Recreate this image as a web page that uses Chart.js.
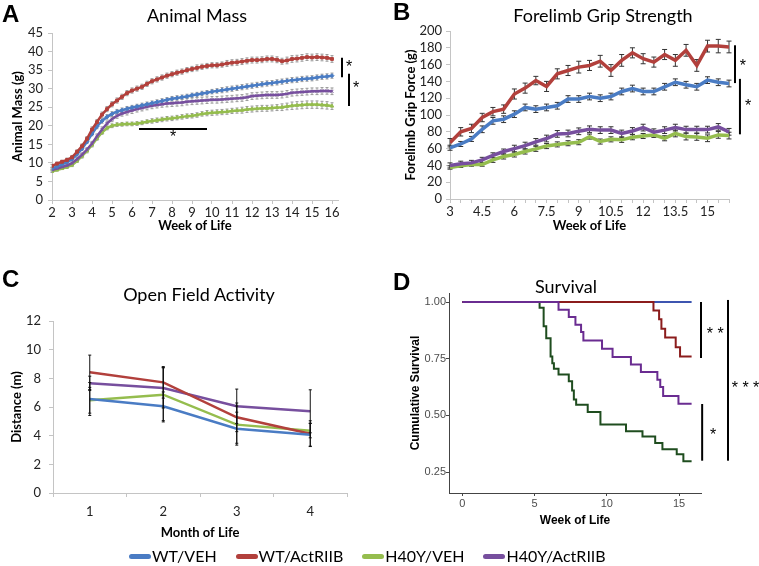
<!DOCTYPE html>
<html><head><meta charset="utf-8">
<script src="https://cdn.jsdelivr.net/npm/chart.js@4.4.1/dist/chart.umd.min.js"></script>
<style>
body{margin:0;background:#fff;width:759px;height:566px;overflow:hidden;position:relative;font-family:Lato,sans-serif;}
canvas{position:absolute;}
.letter{position:absolute;font:bold 24px 'Liberation Sans',Arial,sans-serif;line-height:24px;color:#000;}
.title{position:absolute;width:300px;text-align:center;font:18px Lato,sans-serif;line-height:20px;color:#000;white-space:nowrap;}
#legend{position:absolute;left:129px;top:546px;display:flex;align-items:center;font:16px Lato,sans-serif;line-height:20px;color:#000;white-space:nowrap;}
.item{display:flex;align-items:center;margin-right:19px}
.sw{width:22px;height:5px;border-radius:2.5px;margin-right:1px}
</style></head><body>
<canvas id="cA" width="380" height="240" style="left:0;top:0;width:380px;height:240px"></canvas>
<canvas id="cB" width="379" height="240" style="left:380px;top:0;width:379px;height:240px"></canvas>
<canvas id="cC" width="380" height="297" style="left:0;top:250px;width:380px;height:297px"></canvas>
<canvas id="cD" width="379" height="297" style="left:380px;top:250px;width:379px;height:297px"></canvas>
<div class="letter" style="left:2px;top:2px">A</div>
<div class="letter" style="left:393px;top:0px">B</div>
<div class="letter" style="left:2px;top:267px">C</div>
<div class="letter" style="left:393px;top:270px">D</div>
<div class="title" style="left:47px;top:4.5px">Animal Mass</div>
<div class="title" style="left:453px;top:4.5px">Forelimb Grip Strength</div>
<div class="title" style="left:49px;top:283.5px">Open Field Activity</div>
<div class="title" style="left:416px;top:276px">Survival</div>
<div id="legend"></div>
<script>
// ---------- shared ----------
const groups = ['WT/VEH', 'WT/ActRIIB', 'H40Y/VEH', 'H40Y/ActRIIB'];
const groupColors = ['#4a7cc4', '#b2403c', '#95bd4e', '#774f9e'];

// ---------- Panel A: Animal Mass ----------
const weeksA = [2,2.25,2.5,2.75,3,3.25,3.5,3.75,4,4.25,4.5,4.75,5,5.25,5.5,5.75,6,6.25,6.5,6.75,7,7.25,7.5,7.75,8,8.25,8.5,8.75,9,9.25,9.5,9.75,10,10.25,10.5,10.75,11,11.25,11.5,11.75,12,12.25,12.5,12.75,13,13.25,13.5,13.75,14,14.25,14.5,14.75,15,15.25,15.5,15.75,16];
const weekTicksA = [2,3,4,5,6,7,8,9,10,11,12,13,14,15,16];
const massWTVEH = [8.5,9,9.6,10.2, 11,12.3,13.8,15.7, 17.8,19.8,21.3,22.4, 23.2,23.8,24.2,24.6, 24.9,25.2,25.5,25.8, 26.1,26.4,26.7,27, 27.3,27.5,27.7,27.9, 28.2,28.4,28.7,28.9, 29.2,29.4,29.6,29.8, 30,30.2,30.4,30.6, 30.8,31,31.2,31.4, 31.5,31.7,31.9,32.1, 32.3,32.4,32.6,32.7, 32.8,33,33.2,33.3, 33.5];
const massWTAct = [9.2,9.8,10.3,10.8, 11.5,13,14.5,16.5, 19,21,23,24.5, 25.8,26.8,27.8,28.8, 29.5,30,30.5,31.3, 32,32.5,33,33.5, 33.9,34.3,34.6,35, 35.3,35.6,35.9,36.1, 36.3,36.3,36.5,36.8, 37,37.1,37.3,37.5, 37.7,37.7,37.8,38, 38,37.8,37.4,37.6, 38,38.1,38.3,38.5, 38.4,38.5,38.4,38.3, 38];
const massH40VEH = [7.7,8.1,8.5,8.9, 9.4,10.5,11.8,13.2, 14.8,16.6,18.2,19.4, 20,20.3,20.4,20.5, 20.5,20.6,20.8,21.1, 21.3,21.5,21.7,21.9, 22,22.2,22.4,22.6, 22.7,22.9,23.2,23.4, 23.5,23.6,23.7,23.8, 24,24.1,24.2,24.4, 24.5,24.6,24.7,24.7, 24.8,24.9,25,25.2, 25.4,25.5,25.6,25.7, 25.7,25.7,25.6,25.5, 25.3];
const massH40Act = [8.1,8.5,8.9,9.3, 9.9,11,12.2,13.6, 15.2,17.2,19,20.6, 21.8,22.7,23.3,23.7, 24.1,24.5,24.8,25.1, 25.4,25.6,25.8,26, 26.1,26.2,26.3,26.5, 26.6,26.7,26.8,26.9, 27,27,27.1,27.2, 27.3,27.4,27.5,27.7, 28,28.1,28.2,28.3, 28.3,28.3,28.4,28.6, 28.9,29,29.1,29.2, 29.3,29.3,29.4,29.4, 29.3];
const errWTVEH_A = [0.3,0.3,0.3,0.4, 0.4,0.4,0.5,0.5, 0.5,0.6,0.6,0.6, 0.6,0.6,0.6,0.6, 0.6,0.6,0.6,0.6, 0.6,0.6,0.6,0.6, 0.6,0.6,0.6,0.6, 0.6,0.6,0.6,0.6, 0.6,0.6,0.7,0.7, 0.7,0.7,0.7,0.7, 0.7,0.7,0.7,0.7, 0.7,0.7,0.7,0.7, 0.7,0.7,0.7,0.7, 0.7,0.7,0.7,0.7, 0.7];
const errWTAct_A = [0.4,0.4,0.4,0.5, 0.5,0.5,0.6,0.6, 0.7,0.7,0.7,0.7, 0.7,0.7,0.7,0.7, 0.7,0.7,0.7,0.7, 0.7,0.7,0.7,0.7, 0.7,0.7,0.7,0.7, 0.7,0.8,0.7,0.7, 0.7,0.7,0.7,0.8, 0.8,0.8,0.8,0.8, 0.8,0.8,0.8,0.8, 0.8,0.8,0.8,0.9, 0.9,0.9,0.9,0.9, 0.9,0.9,0.9,0.9, 0.9];
const errH40VEH_A = [0.3,0.3,0.3,0.4, 0.4,0.4,0.5,0.5, 0.5,0.5,0.5,0.5, 0.5,0.5,0.5,0.5, 0.5,0.5,0.5,0.5, 0.6,0.6,0.6,0.6, 0.6,0.6,0.6,0.6, 0.6,0.6,0.6,0.7, 0.7,0.7,0.7,0.7, 0.7,0.7,0.8,0.8, 0.8,0.8,0.8,0.8, 0.8,0.8,0.9,0.9, 1.0,1.0,1.0,1.0, 1.0,1.0,1.0,1.0, 0.9];
const errH40Act_A = [0.3,0.3,0.3,0.4, 0.4,0.4,0.5,0.5, 0.6,0.6,0.7,0.7, 0.7,0.7,0.7,0.8, 0.8,0.8,0.8,0.8, 0.8,0.8,0.8,0.9, 0.9,0.9,0.9,0.9, 0.9,0.9,0.9,0.9, 0.9,0.9,0.9,0.9, 0.9,0.9,0.9,0.9, 0.9,0.9,0.9,0.9, 0.9,0.9,0.9,0.9, 0.9,0.9,0.9,0.9, 0.9,0.9,0.9,0.9, 0.9];
// significance annotations (data units): lines [x1,y1,x2,y2], labels [x,y,text]
const sigLinesA = [[16.5,38.3,16.5,33.1],[16.85,34,16.85,25.3],[6.35,19.1,9.75,19.1]];
const sigLabelsA = [[16.85,35.6,'*'],[17.2,30,'*'],[8.05,16.8,'*']];

// ---------- Panel B: Forelimb Grip Strength ----------
const weeksB = [3,3.5,4,4.5,5,5.5,6,6.5,7,7.5,8,8.5,9,9.5,10,10.5,11,11.5,12,12.5,13,13.5,14,14.5,15,15.5,16];
const tickLabelsB = [3,4.5,6,7.5,9,10.5,12,13.5,15];
const gripWTVEH = [61,65.5,71.5,83,93,95,101,109,107,109,111,119,119,122,120,122,128,131.5,128,128,133.6,139,136,133.6,141.5,139,137.5];
const gripWTAct = [67,80,84,97,104,107,125,132,141,134,149,153,157,159,164,153,165,174,167,163,172,165,177,159,182,182,181];
const gripH40VEH = [37.5,39.5,41,41,46.6,50.6,53,56.5,59.7,63,65,66.4,67.6,74.3,68.4,71,70.4,73.5,75,76.3,72.3,78,74.3,73.9,72.3,76.3,75.5];
const gripH40Act = [40,42,43,46.6,52,56.5,60,63.6,68,72,77.5,78,80.6,83,82,82,78,81,85,79.5,82,85,82.6,82.6,82.6,85.8,80];
const errWTVEH_B = [3,3,3,4,4,4,4,4,4,4,4,4,4,4,4,4,4,4,4,4,4,4,4,4,4,4,4];
const errWTAct_B = [5,5,5,5,5,5,6,6,5,6,6,6,7,6,7,7,7,6,6,6,6,7,7,7,7,8,7];
const errH40VEH_B = [2,2,2,2,3,3,3,3,3,3,3,3,3,3,3,3,3,3,3,3,3,4,4,4,4,4,4];
const errH40Act_B = [3,3,3,3,3,3,4,4,4,4,4,4,4,4,4,4,4,4,4,4,4,4,4,4,4,4,4];
const sigLinesB = [[16.28,183,16.28,138],[16.51,143,16.51,77]];
const sigLabelsB = [[16.65,158,'*'],[16.89,110,'*']];

// ---------- Panel C: Open Field Activity ----------
const monthsC = ['1','2','3','4'];
const distWTVEH = [6.56,6.05,4.49,4.07];
const distWTAct = [8.42,7.72,5.28,4.14];
const distH40VEH = [6.47,6.86,4.77,4.35];
const distH40Act = [7.65,7.33,6.05,5.7];
const errWTVEH_C = [1.15,1.0,1.15,0.8];
const errWTAct_C = [1.2,1.1,1.0,0.9];
const errH40VEH_C = [0.9,1.9,1.3,0.5];
const errH40Act_C = [0.5,1.4,1.2,1.5];

// ---------- Panel D: Survival (Kaplan-Meier steps) ----------
const survTicksX = [0,5,10,15];
const survTicksY = [0.25,0.50,0.75,1.00];
const kmWTVEH_t = [0,15.87];
const kmWTVEH_s = [1,1];
const kmWTAct_t = [0,13.23,13.62,13.78,14.04,14.77,15.07,15.87];
const kmWTAct_s = [1,0.963,0.924,0.882,0.843,0.80,0.76,0.76];
const kmH40VEH_t = [0,5.35,5.63,5.81,6.11,6.23,6.34,6.66,7.37,7.60,7.72,7.88,8.68,9.56,11.33,12.47,13.35,13.85,14.84,15.3,15.87];
const kmH40VEH_s = [1,0.975,0.893,0.84,0.76,0.73,0.706,0.68,0.65,0.61,0.57,0.547,0.515,0.46,0.43,0.407,0.378,0.35,0.328,0.298,0.298];
const kmH40Act_t = [0,6.66,7.37,7.83,8.22,8.38,9.67,10.4,11.67,12.36,13.5,13.7,13.9,14.96,15.87];
const kmH40Act_s = [1,0.966,0.934,0.90,0.868,0.83,0.794,0.757,0.724,0.691,0.657,0.625,0.585,0.551,0.551];
const kmColors = ['#3d55b0','#8b1c1c','#1f4d1f','#6a2c91'];
const sigLinesD = [[16.52,1.0,16.52,0.753],[16.6,0.55,16.6,0.30],[18.39,1.009,18.39,0.30]];
const sigLabelsD = [[17.5,0.855,'* *'],[17.35,0.41,'*'],[19.6,0.62,'* * *']];

// ---------- plugins ----------
function errorBarPlugin(color, cap, width, over) {
  function draw(chart) {
    const ctx = chart.ctx;
    ctx.save();
    ctx.strokeStyle = color; ctx.lineWidth = width;
    chart.data.datasets.forEach((ds, i) => {
      if (!ds.errors) return;
      const meta = chart.getDatasetMeta(i);
      const ys = chart.scales[meta.yAxisID];
      meta.data.forEach((pt, j) => {
        const raw = ds.data[j];
        const v = (typeof raw === 'object') ? raw.y : raw;
        const e = ds.errors[j];
        const t = ys.getPixelForValue(v + e), b = ys.getPixelForValue(v - e);
        ctx.beginPath();
        ctx.moveTo(pt.x, t); ctx.lineTo(pt.x, b);
        ctx.moveTo(pt.x - cap, t); ctx.lineTo(pt.x + cap, t);
        ctx.moveTo(pt.x - cap, b); ctx.lineTo(pt.x + cap, b);
        ctx.stroke();
      });
    });
    ctx.restore();
  }
  return {
    id: 'errBars',
    beforeDatasetsDraw(chart) { if (!over) draw(chart); },
    afterDatasetsDraw(chart) { if (over) draw(chart); }
  };
}
function sigPlugin(lines, labels, font, lw) {
  return {
    id: 'sigMarks',
    afterDraw(chart) {
      const ctx = chart.ctx, xs = chart.scales.x, ys = chart.scales.y;
      ctx.save();
      ctx.strokeStyle = '#000'; ctx.fillStyle = '#000'; ctx.lineWidth = lw;
      lines.forEach(l => {
        ctx.beginPath();
        ctx.moveTo(xs.getPixelForValue(l[0]), ys.getPixelForValue(l[1]));
        ctx.lineTo(xs.getPixelForValue(l[2]), ys.getPixelForValue(l[3]));
        ctx.stroke();
      });
      ctx.font = font; ctx.textAlign = 'center'; ctx.textBaseline = 'middle';
      labels.forEach(t => ctx.fillText(t[2], xs.getPixelForValue(t[0]), ys.getPixelForValue(t[1])));
      ctx.restore();
    }
  };
}

const axisGray = '#c4c4c4';
const tickFont = {family: 'Lato', size: 13};
const titleFont = {family: 'Lato', size: 13, weight: 'bold'};
const basePlugins = {legend: {display: false}, tooltip: {enabled: false}};

function xy(xs, ys) { return xs.map((x, i) => ({x: x, y: ys[i]})); }

// ---------- Chart A ----------
const seriesA = [
  {label: groups[1], data: xy(weeksA, massWTAct), errors: errWTAct_A, color: groupColors[1], marker: 'rect', order: 0},
  {label: groups[0], data: xy(weeksA, massWTVEH), errors: errWTVEH_A, color: groupColors[0], marker: 'rectRot', order: 1},
  {label: groups[3], data: xy(weeksA, massH40Act), errors: errH40Act_A, color: groupColors[3], marker: 'crossRot', order: 2},
  {label: groups[2], data: xy(weeksA, massH40VEH), errors: errH40VEH_A, color: groupColors[2], marker: 'triangle', order: 3}
];
new Chart(document.getElementById('cA'), {
  type: 'line',
  data: {datasets: seriesA.map(s => ({
    label: s.label, data: s.data, errors: s.errors, order: s.order,
    borderColor: s.color, backgroundColor: s.color, pointBackgroundColor: s.color, pointBorderColor: s.color,
    pointStyle: s.marker, pointRadius: 2, pointBorderWidth: 1, borderWidth: 2.5, tension: 0
  }))},
  options: {
    responsive: false, animation: false, devicePixelRatio: 1,
    layout: {padding: {top: 33, right: 42, bottom: 2, left: 6}, autoPadding: false},
    plugins: basePlugins,
    scales: {
      x: {type: 'linear', min: 2, max: 16.3,
        afterBuildTicks: s => { s.ticks = weekTicksA.map(v => ({value: v})); },
        ticks: {font: tickFont, color: '#222', padding: 1, maxRotation: 0, autoSkip: false},
        grid: {drawOnChartArea: false, tickLength: 4, color: axisGray}, border: {color: axisGray},
        title: {display: true, text: 'Week of Life', font: titleFont, color: '#000', padding: {top: 4, bottom: 4}},
        afterFit: s => { s.height = 38; }},
      y: {min: 0, max: 45,
        ticks: {stepSize: 5, font: tickFont, color: '#222', padding: 5, autoSkip: false},
        grid: {drawOnChartArea: false, tickLength: 4, color: axisGray}, border: {color: axisGray},
        title: {display: true, text: 'Animal Mass (g)', font: titleFont, color: '#000', padding: {top: 4, bottom: 4}},
        afterFit: s => { s.width = 46; }}
    }
  },
  plugins: [errorBarPlugin('#9b9b9b', 1.5, 1, false), sigPlugin(sigLinesA, sigLabelsA, '16px "Liberation Sans"', 2)]
});

// ---------- Chart B ----------
const seriesB = [
  {label: groups[1], vals: gripWTAct, errors: errWTAct_B, color: groupColors[1]},
  {label: groups[0], vals: gripWTVEH, errors: errWTVEH_B, color: groupColors[0]},
  {label: groups[3], vals: gripH40Act, errors: errH40Act_B, color: groupColors[3]},
  {label: groups[2], vals: gripH40VEH, errors: errH40VEH_B, color: groupColors[2]}
];
new Chart(document.getElementById('cB'), {
  type: 'line',
  data: {datasets: seriesB.map(s => ({
    label: s.label, data: xy(weeksB, s.vals), errors: s.errors,
    borderColor: s.color, backgroundColor: s.color, pointRadius: 0, borderWidth: 3.5, tension: 0
  }))},
  options: {
    responsive: false, animation: false, devicePixelRatio: 1,
    layout: {padding: {top: 31, right: 30, bottom: 2, left: 19}, autoPadding: false},
    plugins: basePlugins,
    scales: {
      x: {type: 'linear', min: 3, max: 16,
        afterBuildTicks: s => { s.ticks = weeksB.map(v => ({value: v})); },
        ticks: {font: tickFont, color: '#222', padding: 1, maxRotation: 0, autoSkip: false,
          callback: v => tickLabelsB.includes(v) ? String(v) : ''},
        grid: {drawOnChartArea: false, tickLength: 4, color: axisGray}, border: {color: axisGray},
        title: {display: true, text: 'Week of Life', font: titleFont, color: '#000', padding: {top: 4, bottom: 4}},
        afterFit: s => { s.height = 39; }},
      y: {min: 0, max: 200,
        ticks: {stepSize: 20, font: tickFont, color: '#222', padding: 4, autoSkip: false},
        grid: {drawOnChartArea: false, tickLength: 4, color: axisGray}, border: {color: axisGray},
        title: {display: true, text: 'Forelimb Grip Force (g)', font: titleFont, color: '#000', padding: {top: 4, bottom: 4}},
        afterFit: s => { s.width = 51; }}
    }
  },
  plugins: [errorBarPlugin('#333', 2.5, 1, false), sigPlugin(sigLinesB, sigLabelsB, '16px "Liberation Sans"', 2)]
});

// ---------- Chart C ----------
const seriesC = [
  {label: groups[0], vals: distWTVEH, errors: errWTVEH_C, color: groupColors[0]},
  {label: groups[1], vals: distWTAct, errors: errWTAct_C, color: groupColors[1]},
  {label: groups[2], vals: distH40VEH, errors: errH40VEH_C, color: groupColors[2]},
  {label: groups[3], vals: distH40Act, errors: errH40Act_C, color: groupColors[3]}
];
new Chart(document.getElementById('cC'), {
  type: 'line',
  data: {labels: monthsC, datasets: seriesC.map(s => ({
    label: s.label, data: s.vals, errors: s.errors,
    borderColor: s.color, backgroundColor: s.color, pointRadius: 0, borderWidth: 2.5, tension: 0
  }))},
  options: {
    responsive: false, animation: false, devicePixelRatio: 1,
    layout: {padding: {top: 71, right: 33, bottom: 2, left: 5}, autoPadding: false},
    plugins: basePlugins,
    scales: {
      x: {type: 'category', offset: true,
        ticks: {font: tickFont, color: '#222', padding: 7, maxRotation: 0},
        grid: {offset: true, drawOnChartArea: false, tickLength: 4, color: axisGray}, border: {color: axisGray},
        title: {display: true, text: 'Month of Life', font: titleFont, color: '#000', padding: {top: 4, bottom: 4}},
        afterFit: s => { s.height = 52; }},
      y: {min: 0, max: 12,
        ticks: {stepSize: 2, font: tickFont, color: '#222', padding: 8, autoSkip: false},
        grid: {drawOnChartArea: false, tickLength: 4, color: axisGray}, border: {color: axisGray},
        title: {display: true, text: 'Distance (m)', font: titleFont, color: '#000', padding: {top: 4, bottom: 4}},
        afterFit: s => { s.width = 48; }}
    }
  },
  plugins: [errorBarPlugin('#111', 1.5, 1, true)]
});

// ---------- Chart D ----------
const seriesD = [
  {label: groups[3], t: kmH40Act_t, s: kmH40Act_s, color: kmColors[3], order: 0},
  {label: groups[1], t: kmWTAct_t, s: kmWTAct_s, color: kmColors[1], order: 1},
  {label: groups[2], t: kmH40VEH_t, s: kmH40VEH_s, color: kmColors[2], order: 2},
  {label: groups[0], t: kmWTVEH_t, s: kmWTVEH_s, color: kmColors[0], order: 3}
];
const dTick = {family: 'Liberation Sans', size: 11};
const dTitle = {family: 'Liberation Sans', size: 12, weight: 'bold'};
new Chart(document.getElementById('cD'), {
  type: 'line',
  data: {datasets: seriesD.map(s => ({
    label: s.label, data: xy(s.t, s.s), order: s.order, stepped: 'before',
    borderColor: s.color, backgroundColor: s.color, pointRadius: 0, borderWidth: 2
  }))},
  options: {
    responsive: false, animation: false, devicePixelRatio: 1,
    layout: {padding: {top: 43, right: 58, bottom: 15, left: 24}, autoPadding: false},
    plugins: basePlugins,
    scales: {
      x: {type: 'linear', min: -0.92, max: 16.52,
        afterBuildTicks: s => { s.ticks = survTicksX.map(v => ({value: v})); },
        ticks: {font: dTick, color: '#4d4d4d', padding: 1, maxRotation: 0, autoSkip: false},
        grid: {drawOnChartArea: false, tickLength: 3, color: '#444'}, border: {color: '#444', width: 1},
        title: {display: true, text: 'Week of Life', font: dTitle, color: '#000', padding: {top: 4, bottom: 4}},
        afterFit: s => { s.height = 39; }},
      y: {min: 0.1575, max: 1.0397,
        afterBuildTicks: s => { s.ticks = survTicksY.map(v => ({value: v})); },
        ticks: {font: dTick, color: '#4d4d4d', padding: 0, autoSkip: false, callback: v => v.toFixed(2)},
        grid: {drawOnChartArea: false, tickLength: 3, color: '#444'}, border: {color: '#444', width: 1},
        title: {display: true, text: 'Cumulative Survival', font: dTitle, color: '#000', padding: {top: 4, bottom: 4}},
        afterFit: s => { s.width = 45; }}
    }
  },
  plugins: [sigPlugin(sigLinesD, sigLabelsD, '16px "Liberation Sans"', 2)]
});

// ---------- shared legend ----------
const legend = document.getElementById('legend');
groups.forEach((g, i) => {
  const item = document.createElement('div'); item.className = 'item';
  const sw = document.createElement('span'); sw.className = 'sw'; sw.style.background = groupColors[i];
  const tx = document.createElement('span'); tx.textContent = g;
  item.appendChild(sw); item.appendChild(tx); legend.appendChild(item);
});
</script>
</body></html>
